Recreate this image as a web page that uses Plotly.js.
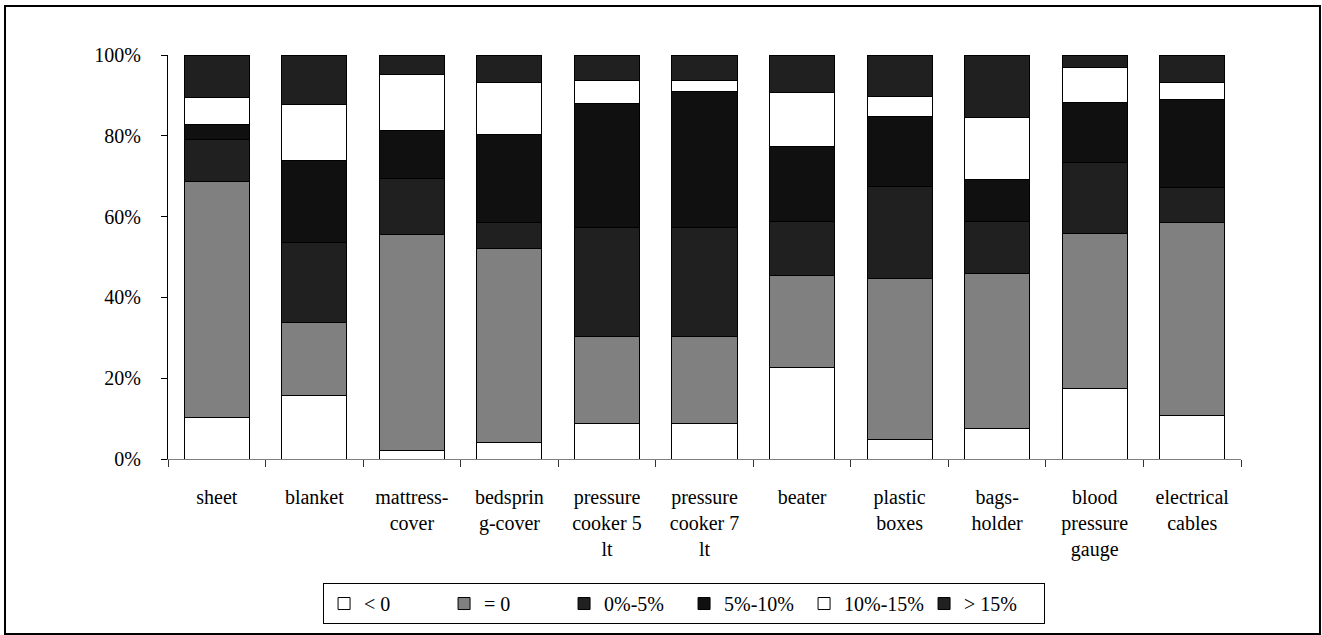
<!DOCTYPE html>
<html>
<head>
<meta charset="utf-8">
<script src="https://cdn.plot.ly/plotly-3.0.1.min.js"></script>
<style>html,body{margin:0;padding:0;background:#fff;}#chart{width:1322px;height:635px;}</style>
</head>
<body>
<div id="chart"></div>
<script>
const categories = ["sheet","blanket","mattress-<br>cover","bedsprin<br>g-cover","pressure<br>cooker 5<br>lt","pressure<br>cooker 7<br>lt","beater","plastic<br>boxes","bags-<br>holder","blood<br>pressure<br>gauge","electrical<br>cables"];
const seriesNames = ["< 0","= 0","0%-5%","5%-10%","10%-15%","> 15%"];
const lessThan0   = [10.2, 15.7,  2.1,  4.2,  8.9,  8.9, 22.6,  4.9,  7.5, 17.5, 10.7];
const equal0      = [58.6, 18.1, 53.4, 47.8, 21.3, 21.3, 22.7, 39.9, 38.5, 38.3, 47.8];
const p0to5       = [10.3, 19.9, 14.0,  6.6, 27.1, 27.1, 13.6, 22.6, 12.7, 17.5,  8.7];
const p5to10      = [ 3.6, 20.3, 11.9, 21.8, 30.7, 33.6, 18.4, 17.5, 10.5, 15.0, 21.8];
const p10to15     = [ 6.7, 13.7, 13.8, 12.9,  5.8,  2.9, 13.5,  4.9, 15.3,  8.6,  4.3];
const over15      = [10.6, 12.3,  4.8,  6.7,  6.2,  6.2,  9.2, 10.2, 15.5,  3.1,  6.7];
const yTicks = [0, 20, 40, 60, 80, 100];
const yTickText = ["0%", "20%", "40%", "60%", "80%", "100%"];

const seriesValues = [lessThan0, equal0, p0to5, p5to10, p10to15, over15];
const fills = ["#ffffff", "#808080", "#202020", "#101010", "#ffffff", "#202020"];

const traces = seriesValues.map((vals, i) => ({
  type: "bar",
  name: seriesNames[i],
  x: categories,
  y: vals,
  marker: {color: fills[i], line: {color: "#000", width: 1}},
  hoverinfo: "x+y+name"
}));

const font = {family: "'Liberation Serif', 'Times New Roman', serif", size: 20, color: "#000"};

const layout = {
  width: 1322, height: 635,
  margin: {l: 168, r: 81, t: 55, b: 176, autoexpand: false},
  paper_bgcolor: "#fff", plot_bgcolor: "#fff",
  font: font,
  barmode: "stack",
  bargap: 0.333,
  showlegend: true,
  legend: {
    orientation: "h", x: 0.1445, xanchor: "left", y: -0.307, yanchor: "top",
    traceorder: "normal", entrywidth: 75, entrywidthmode: "pixels",
    bordercolor: "#000", borderwidth: 1, font: font, itemwidth: 30
  },
  xaxis: {
    type: "category", showline: true, linecolor: "#808080", linewidth: 1,
    ticks: "outside", tickson: "boundaries", ticklen: 7, tickcolor: "#333",
    showgrid: false, zeroline: false, tickfont: font, ticklabelstandoff: 20,
    tickangle: 0, automargin: false
  },
  xaxis2: {
    overlaying: "x", type: "linear", range: [-0.5, 10.5], tick0: -0.5, dtick: 1,
    ticks: "inside", ticklen: 5, tickcolor: "#333", showticklabels: false,
    showgrid: false, zeroline: false, showline: false, anchor: "y"
  },
  yaxis: {
    range: [0, 100], tickvals: yTicks, ticktext: yTickText, showline: true,
    linecolor: "#000", linewidth: 1, ticks: "outside", ticklen: 6, tickcolor: "#000",
    showgrid: false, zeroline: false, tickfont: font, ticklabelstandoff: 16,
    automargin: false
  },
  yaxis2: {
    overlaying: "y", range: [0, 100], tickvals: yTicks, ticks: "inside", ticklen: 7,
    tickcolor: "#000", showticklabels: false, showgrid: false, zeroline: false,
    showline: false, anchor: "x", side: "left"
  },
  shapes: [{
    type: "rect", xref: "paper", yref: "paper",
    x0: -0.1519, x1: 1.0736, y0: -0.433, y1: 1.1213,
    line: {color: "#000", width: 2}, layer: "below"
  }]
};

Plotly.newPlot("chart", traces, layout, {displayModeBar: false, staticPlot: true});
</script>
</body>
</html>
